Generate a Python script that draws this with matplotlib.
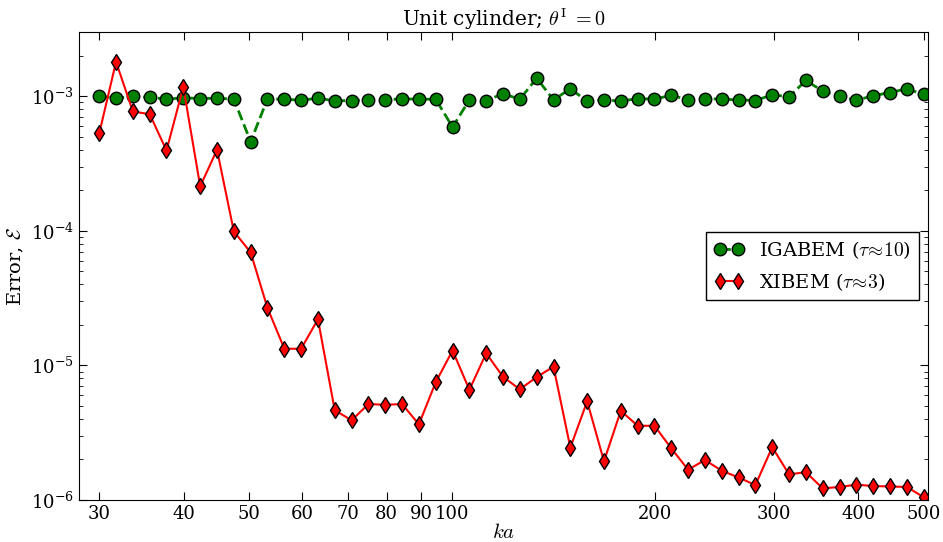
import matplotlib
matplotlib.use('Agg')
import matplotlib.pyplot as plt

plt.rcParams['font.family'] = 'serif'
plt.rcParams['font.serif'] = ['DejaVu Serif']
plt.rcParams['mathtext.fontset'] = 'cm'
plt.rcParams['axes.unicode_minus'] = False
plt.rcParams['xtick.direction'] = 'in'
plt.rcParams['ytick.direction'] = 'in'
plt.rcParams['xtick.top'] = True
plt.rcParams['ytick.right'] = True

ka = [30, 31.77, 33.65, 35.64, 37.74, 39.97, 42.34, 44.84, 47.49, 50.30,
      53.27, 56.42, 59.75, 63.28, 67.02, 70.98, 75.18, 79.62, 84.33, 89.31,
      94.59, 100.18, 106.10, 112.37, 119.01, 126.05, 133.50, 141.39, 149.74, 158.59,
      167.96, 177.89, 188.40, 199.53, 211.32, 223.81, 237.04, 251.05, 265.89, 281.60,
      298.24, 315.87, 334.54, 354.31, 375.25, 397.42, 420.91, 445.79, 472.13, 500.0]

err_igabem = [1.00e-3, 0.97e-3, 0.995e-3, 0.983e-3, 0.95e-3, 0.973e-3, 0.961e-3, 0.966e-3, 0.95e-3, 0.459e-3,
              0.956e-3, 0.95e-3, 0.934e-3, 0.966e-3, 0.924e-3, 0.929e-3, 0.94e-3, 0.94e-3, 0.956e-3, 0.95e-3,
              0.95e-3, 0.589e-3, 0.94e-3, 0.929e-3, 1.042e-3, 0.95e-3, 1.36e-3, 0.94e-3, 1.135e-3, 0.918e-3,
              0.94e-3, 0.918e-3, 0.961e-3, 0.95e-3, 1.017e-3, 0.94e-3, 0.961e-3, 0.95e-3, 0.94e-3, 0.929e-3,
              1.024e-3, 0.99e-3, 1.31e-3, 1.089e-3, 0.995e-3, 0.934e-3, 1.007e-3, 1.065e-3, 1.135e-3, 1.03e-3]

err_xibem = [5.29e-4, 1.80e-3, 7.70e-4, 7.35e-4, 3.95e-4, 1.174e-3, 2.14e-4, 4.00e-4, 9.9e-5, 6.9e-5,
             2.67e-5, 1.33e-5, 1.33e-5, 2.20e-5, 4.64e-6, 3.91e-6, 5.16e-6, 5.1e-6, 5.16e-6, 3.65e-6,
             7.5e-6, 1.29e-5, 6.59e-6, 1.23e-5, 8.22e-6, 6.64e-6, 8.2e-6, 9.77e-6, 2.45e-6, 5.41e-6,
             1.94e-6, 4.6e-6, 3.56e-6, 3.56e-6, 2.42e-6, 1.68e-6, 1.98e-6, 1.65e-6, 1.47e-6, 1.29e-6,
             2.47e-6, 1.55e-6, 1.61e-6, 1.22e-6, 1.25e-6, 1.30e-6, 1.27e-6, 1.26e-6, 1.25e-6, 1.05e-6]

xtick_vals = [30, 40, 50, 60, 70, 80, 90, 100, 200, 300, 400, 500]

fig = plt.figure(figsize=(9.43, 5.42), dpi=100)
ax = fig.add_axes([0.0838, 0.0775, 0.9006, 0.8635])

ax.plot(ka, err_igabem, '--o', color=(0, 0.5, 0), lw=2, ms=9,
        mec='k', mfc=(0, 0.5, 0), label=r'IGABEM ($\tau\!\approx\!10$)')
ax.plot(ka, err_xibem, '-d', color='r', lw=1.5, ms=8.5,
        mec='k', mfc='r', label=r'XIBEM ($\tau\!\approx\!3$)')

ax.set_xscale('log')
ax.set_yscale('log')
ax.set_xlim(28, 508)
ax.set_ylim(1e-6, 3e-3)
ax.set_xticks(xtick_vals)
ax.set_xticklabels([str(v) for v in xtick_vals])
ax.xaxis.set_minor_locator(matplotlib.ticker.NullLocator())
ax.tick_params(labelsize=13, length=6)
ax.tick_params(which='minor', length=3)

ax.set_xlabel(r'$ka$', fontsize=15, labelpad=0)
ax.set_ylabel(r'Error, $\mathcal{E}$', fontsize=14)
ax.set_title(r'Unit cylinder; $\theta^{\mathrm{I}}\;{=}0$', fontsize=14.5, pad=4)

leg = ax.legend(loc='center right', numpoints=2, fontsize=14, fancybox=False,
                framealpha=1, edgecolor='k', borderaxespad=0.5, handlelength=1.5)
leg.get_frame().set_linewidth(1)

fig.savefig('out.png', dpi=100)
